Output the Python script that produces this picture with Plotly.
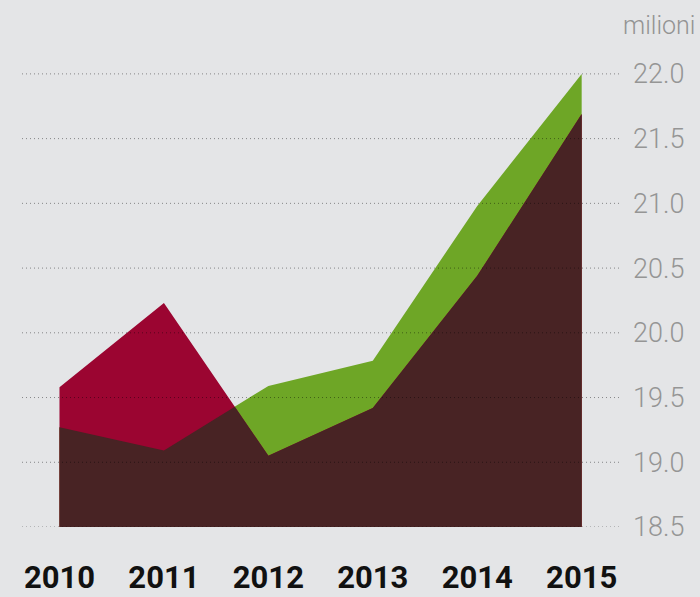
import plotly.graph_objects as go

years = [2010, 2011, 2012, 2013, 2014, 2015]
series_a = [19.58, 20.23, 19.05, 19.42, 20.44, 21.69]   # red where above B
series_b = [19.27, 19.09, 19.59, 19.785, 20.98, 22.00]  # green where above A
y_ticks = [18.5, 19.0, 19.5, 20.0, 20.5, 21.0, 21.5, 22.0]
y_tick_labels = [f"{v:.1f}" for v in y_ticks]
unit_label = "milioni"

RED = "#9b0531"
GREEN = "#6ea626"
DARK = "#482324"
BG = "#e4e5e7"

# lower envelope (min of both series) including crossing points
env_x, env_y = [], []
for i in range(len(years)):
    env_x.append(years[i])
    env_y.append(min(series_a[i], series_b[i]))
    if i < len(years) - 1:
        d0 = series_a[i] - series_b[i]
        d1 = series_a[i + 1] - series_b[i + 1]
        if d0 * d1 < 0:
            t = d0 / (d0 - d1)
            env_x.append(years[i] + t)
            env_y.append(series_a[i] + t * (series_a[i + 1] - series_a[i]))

fig = go.Figure()
fig.add_trace(go.Scatter(x=years, y=series_b, mode="lines", fill="tozeroy",
                         fillcolor=GREEN, line=dict(width=0, color=GREEN),
                         hoverinfo="skip", showlegend=False))
fig.add_trace(go.Scatter(x=years, y=series_a, mode="lines", fill="tozeroy",
                         fillcolor=RED, line=dict(width=0, color=RED),
                         hoverinfo="skip", showlegend=False))
fig.add_trace(go.Scatter(x=env_x, y=env_y, mode="lines", fill="tozeroy",
                         fillcolor=DARK, line=dict(width=0, color=DARK),
                         hoverinfo="skip", showlegend=False))

for v in y_ticks:
    fig.add_shape(type="line", xref="paper", x0=0, x1=1, yref="y", y0=v, y1=v,
                  line=dict(color="rgba(0,0,0,0.42)", width=1, dash="1px,3px"),
                  layer="above")

fig.add_annotation(text=unit_label, xref="paper", yref="paper", x=1.129, y=1.048,
                   xanchor="right", yanchor="middle", showarrow=False,
                   font=dict(family="Roboto", size=25, color="#939393", weight=300))

fig.update_layout(
    width=700, height=597,
    margin=dict(l=22, r=80, t=48, b=70),
    paper_bgcolor=BG, plot_bgcolor=BG,
    xaxis=dict(range=[2009.641, 2015.367], tickvals=years, ticktext=[str(y) for y in years],
               showgrid=False, zeroline=False, showline=False, ticks="",
               ticklabelstandoff=29, automargin=False,
               tickfont=dict(family="Roboto", size=31, color="#111111", weight="bold")),
    yaxis=dict(range=[18.5, 22.2], side="right", tickvals=y_ticks, ticktext=y_tick_labels,
               showgrid=False, zeroline=False, showline=False, ticks="",
               ticklabelstandoff=12, automargin=False,
               tickfont=dict(family="Roboto", size=27, color="#959595", weight=300)),
)

fig.write_html("out.html", config={"displayModeBar": False},
               post_script="document.body.style.margin='0';document.body.style.background='%s';" % BG)
